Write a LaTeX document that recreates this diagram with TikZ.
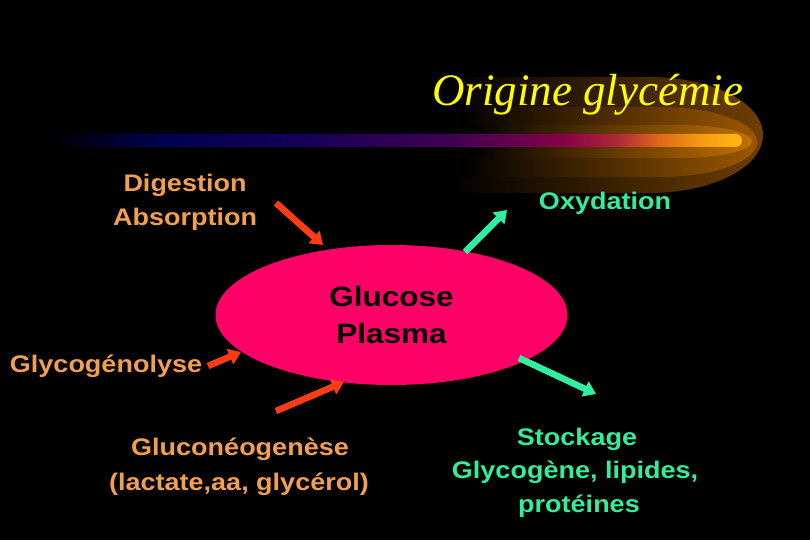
\documentclass[tikz,border=0pt]{standalone}
\usepackage{fontspec}
\setmainfont{Liberation Sans}[FakeStretch=1.125]
\newfontfamily\titlefont{Liberation Serif}
\usetikzlibrary{arrows.meta,shapes.geometric}
\definecolor{txtorange}{HTML}{F2A050}
\definecolor{txtgreen}{HTML}{33EE99}
\definecolor{arrred}{HTML}{FF3C14}
\definecolor{arrgreen}{HTML}{30F0A0}
\definecolor{glucpink}{HTML}{FF0066}
\definecolor{titleyellow}{HTML}{FFFF00}
\definecolor{glowA}{HTML}{6E3E04}
\definecolor{glowB}{HTML}{9C5800}
\definecolor{glowC}{HTML}{C27000}
\definecolor{bc1}{HTML}{000050}
\definecolor{bc2}{HTML}{14005A}
\definecolor{bc3}{HTML}{400050}
\definecolor{bc4}{HTML}{850048}
\definecolor{bc5}{HTML}{B02838}
\definecolor{bc6}{HTML}{E06818}
\definecolor{bc7}{HTML}{F59A10}
\definecolor{bc8}{HTML}{FFB814}
\pgfdeclarehorizontalshading{barshade}{100bp}{color(0bp)=(black); color(25bp)=(black); color(33bp)=(bc1); color(43bp)=(bc2); color(54bp)=(bc3); color(62bp)=(bc4); color(66bp)=(bc5); color(69bp)=(bc6); color(72bp)=(bc7); color(75bp)=(bc8); color(100bp)=(bc8)}
\begin{document}
\begin{tikzpicture}[x=1pt,y=-1pt,
  lbl/.style={anchor=base,inner sep=0pt,font=\fontsize{24}{34}\selectfont\bfseries},
  lblo/.style={lbl,text=txtorange},
  lblg/.style={lbl,text=txtgreen},
  inarrow/.style={draw=arrred,line width=6.5pt,-{Triangle[length=12pt,width=16pt]}},
  outarrow/.style={draw=arrgreen,line width=6.5pt,-{Triangle[length=12pt,width=16pt]}}]
\useasboundingbox (0,0) rectangle (810,540);
\fill[black] (0,0) rectangle (810,540);
% glow
\shade[left color=black,middle color=glowA,right color=glowA]
  (450,77) -- (650,77) arc[start angle=90,end angle=-90,x radius=113pt,y radius=58pt] -- (450,193) -- cycle;
\shade[left color=black,middle color=glowB,right color=glowB]
  (460,107) -- (660,107) arc[start angle=90,end angle=-90,x radius=97pt,y radius=35pt] -- (460,177) -- cycle;
\shade[left color=black,middle color=glowC,right color=glowC]
  (470,125) -- (680,125) arc[start angle=90,end angle=-90,x radius=72pt,y radius=16.5pt] -- (470,158) -- cycle;
% bar
\shade[shading=barshade,rounded corners=6.5pt] (50,134) rectangle (742,147);
% title
\node[anchor=base west,inner sep=0pt,text=titleyellow,font=\titlefont\itshape\fontsize{45}{50}\selectfont] (title) at (432,106) {Origine glycémie};
% ellipse
\node[ellipse,fill=glucpink,minimum width=352pt,minimum height=140pt,inner sep=0pt,align=center,font=\fontsize{28}{37}\selectfont\bfseries] (gp) at (391.5,315) {Glucose\\Plasma};
% labels
\node[lblo] (dig) at (185,191) {Digestion};
\node[lblo] (abs) at (185,225) {Absorption};
\node[lblg] (oxy) at (605,209) {Oxydation};
\node[lblo] (glyco) at (106,372) {Glycogénolyse};
\node[lblo] (gluco) at (240,455) {Gluconéogenèse};
\node[lblo] (lact) at (239,490) {(lactate,aa, glycérol)};
\node[lblg] (stock) at (577,445) {Stockage};
\node[lblg] (glyc) at (575,478) {Glycogène, lipides,};
\node[lblg] (prot) at (579,512) {protéines};
% arrow ends
\coordinate (digT) at (276,203); \coordinate (digH) at (323,245);
\coordinate (oxyT) at (465,252); \coordinate (oxyH) at (507,210);
\coordinate (glyT) at (208,366); \coordinate (glyH) at (241,352);
\coordinate (gluT) at (276,411); \coordinate (gluH) at (344,382);
\coordinate (stoT) at (519,358); \coordinate (stoH) at (596,394);
\draw[inarrow] (digT) -- (digH);
\draw[outarrow] (oxyT) -- (oxyH);
\draw[inarrow] (glyT) -- (glyH);
\draw[inarrow] (gluT) -- (gluH);
\draw[outarrow] (stoT) -- (stoH);
\end{tikzpicture}
\end{document}
